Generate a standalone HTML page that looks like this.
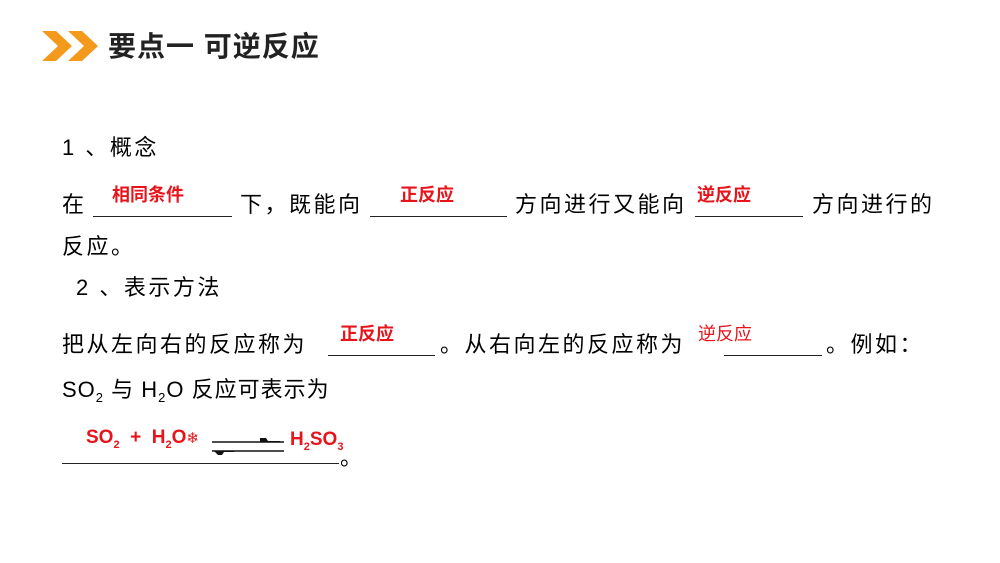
<!DOCTYPE html>
<html><head><meta charset="utf-8"><style>
body{margin:0;width:1000px;height:563px;background:#fff;position:relative;overflow:hidden;font-family:"Liberation Sans","Noto Sans CJK SC",sans-serif;color:#000}
.t{position:absolute;font-size:22px;letter-spacing:2.5px;white-space:nowrap;line-height:26px}
.r{position:absolute;color:#e8141b;font-weight:bold;font-size:18px;white-space:nowrap;line-height:20px}
.u{position:absolute;height:1px;background:#222}
sub{font-size:13px;vertical-align:-5px;line-height:0}
</style></head><body>
<svg style="position:absolute;left:40px;top:28px" width="64" height="36">
<polygon points="2,3 16,3 32,18 16,33 2,33 18,18" fill="#f39a1d"/>
<polygon points="28,3 42,3 58,18 42,33 28,33 44,18" fill="#f39a1d"/>
</svg>
<div style="position:absolute;left:108px;top:31px;font-size:28px;letter-spacing:1px;font-weight:bold;line-height:32px;color:#222">要点一 可逆反应</div>

<div class="t" style="left:62px;top:135px">1 、概念</div>

<div class="t" style="left:62px;top:192px">在</div>
<div class="u" style="left:93px;top:216px;width:139px"></div>
<div class="r" style="left:112px;top:185px">相同条件</div>
<div class="t" style="left:240px;top:192px">下，既能向</div>
<div class="u" style="left:370px;top:216px;width:137px"></div>
<div class="r" style="left:400px;top:185px">正反应</div>
<div class="t" style="left:515px;top:192px">方向进行又能向</div>
<div class="u" style="left:695px;top:216px;width:108px"></div>
<div class="r" style="left:697px;top:185px">逆反应</div>
<div class="t" style="left:812px;top:192px">方向进行的</div>

<div class="t" style="left:62px;top:234px">反应。</div>
<div class="t" style="left:76px;top:275px">2 、表示方法</div>

<div class="t" style="left:62px;top:332px">把从左向右的反应称为</div>
<div class="u" style="left:328px;top:355px;width:107px"></div>
<div class="r" style="left:340px;top:324px">正反应</div>
<div class="t" style="left:440px;top:332px">。从右向左的反应称为</div>
<div class="r" style="left:698px;top:324px;font-weight:normal">逆反应</div>
<div class="u" style="left:724px;top:355px;width:98px"></div>
<div class="t" style="left:826px;top:332px">。例如：</div>

<div class="t" style="left:62px;top:377px;letter-spacing:1px">SO<sub>2</sub> 与 H<sub>2</sub>O 反应可表示为</div>

<div class="r" style="left:86px;top:428px;font-size:19px">SO<sub style="font-size:11px">2</sub> &nbsp;+ &nbsp;H<sub style="font-size:11px">2</sub>O<span style="font-weight:normal;font-size:15px">❄</span></div>
<svg style="position:absolute;left:210px;top:434px" width="76" height="26">
<line x1="2" y1="8" x2="74" y2="8" stroke="#111" stroke-width="1.6"/>
<line x1="2" y1="17" x2="74" y2="17" stroke="#111" stroke-width="1.6"/>
<polygon points="50,4 56,4 58,7 70,7 70,8 50,8" fill="#111"/>
<polygon points="4,17 24,17 24,18 14,18 12,21 8,21" fill="#111"/>
</svg>
<div class="r" style="left:290px;top:430px;font-size:19px">H<sub style="font-size:11px">2</sub>SO<sub style="font-size:11px">3</sub></div>
<div class="u" style="left:62px;top:463px;width:277px"></div>
<div class="t" style="left:340px;top:445px">。</div>
</body></html>
